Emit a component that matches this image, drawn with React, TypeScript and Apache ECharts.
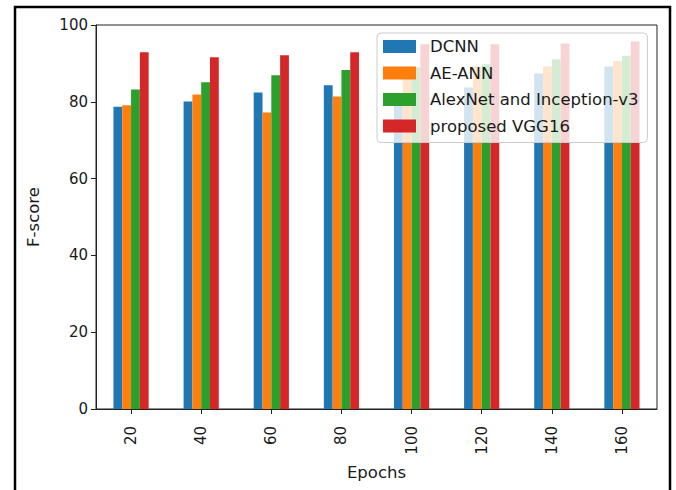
import React, { useEffect, useRef } from "react";
import * as echarts from "echarts";

const epochs = ["20", "40", "60", "80", "100", "120", "140", "160"];
const dcnn = [78.7, 80.1, 82.4, 84.3, 81.5, 83.7, 87.4, 89.2];
const aeAnn = [79.1, 81.9, 77.2, 81.4, 86.0, 89.2, 89.2, 90.6];
const alexInception = [83.2, 85.1, 86.9, 88.3, 89.0, 89.8, 91.1, 92.0];
const vgg16 = [92.9, 91.6, 92.1, 92.9, 95.0, 95.0, 95.2, 95.7];
const seriesNames = ["DCNN", "AE-ANN", "AlexNet and Inception-v3", "proposed VGG16"];
const seriesData = [dcnn, aeAnn, alexInception, vgg16];
const colors = ["#1f77b4", "#ff7f0e", "#2ca02c", "#d62728"];
const yTicks = [0, 20, 40, 60, 80, 100];

const FONT = "DejaVu Sans";
const TEXT = "#1a1a1a";
const TICK_FS = 15;
const LABEL_FS = 16.5;

export default function App() {
  const ref = useRef<HTMLDivElement>(null);

  useEffect(() => {
    if (!ref.current) return;
    const chart = echarts.init(ref.current, undefined, { renderer: "svg" });
    chart.setOption({
      animation: false,
      backgroundColor: "#fff",
      color: colors,
      textStyle: { fontFamily: FONT, color: TEXT },
      grid: {
        left: 96,
        right: 19,
        top: 25,
        bottom: 81,
        show: true,
        borderColor: "#222",
        borderWidth: 1,
        backgroundColor: "transparent",
      },
      legend: {
        orient: "vertical",
        left: 377,
        top: 33,
        padding: [5, 9, 8, 6],
        itemWidth: 33,
        itemHeight: 13,
        itemGap: 9.5,
        icon: "rect",
        backgroundColor: "rgba(255,255,255,0.8)",
        borderColor: "#cccccc",
        borderWidth: 1,
        borderRadius: 4,
        textStyle: {
          fontFamily: FONT,
          fontSize: LABEL_FS,
          lineHeight: 17,
          color: TEXT,
          padding: [0, 0, 0, 9],
        },
        data: seriesNames,
      },
      xAxis: {
        type: "category",
        data: epochs,
        name: "Epochs",
        nameLocation: "middle",
        nameGap: 55,
        nameTextStyle: { fontFamily: FONT, fontSize: LABEL_FS, color: TEXT },
        axisLine: { show: true, lineStyle: { color: "#222", width: 1 } },
        axisTick: { show: true, alignWithLabel: true, length: 5, lineStyle: { color: "#222" } },
        axisLabel: {
          rotate: 90,
          margin: 17,
          fontFamily: FONT,
          fontSize: TICK_FS,
          color: TEXT,
        },
        splitLine: { show: false },
      },
      yAxis: {
        type: "value",
        min: 0,
        max: 100,
        interval: 20,
        name: "F-score",
        nameLocation: "middle",
        nameGap: 54,
        nameTextStyle: { fontFamily: FONT, fontSize: LABEL_FS, color: TEXT },
        axisLine: { show: true, lineStyle: { color: "#222", width: 1 } },
        axisTick: { show: true, length: 5, lineStyle: { color: "#222" } },
        axisLabel: {
          margin: 8,
          fontFamily: FONT,
          fontSize: TICK_FS,
          color: TEXT,
          formatter: (v: number) => (yTicks.includes(v) ? String(v) : ""),
        },
        splitLine: { show: false },
      },
      series: seriesNames.map((name, i) => ({
        name,
        type: "bar",
        data: seriesData[i],
        barWidth: 8.8,
        barGap: "0%",
        itemStyle: { color: colors[i] },
      })),
      graphic: [
        {
          type: "rect",
          shape: { x: 15, y: 7, width: 655, height: 500 },
          style: { fill: "none", stroke: "#000", lineWidth: 2.5 },
          silent: true,
          z: 100,
        },
      ],
    });
    return () => chart.dispose();
  }, []);

  return (
    <div
      ref={ref}
      style={{ position: "fixed", left: 0, top: 0, width: 676, height: 490 }}
    />
  );
}
